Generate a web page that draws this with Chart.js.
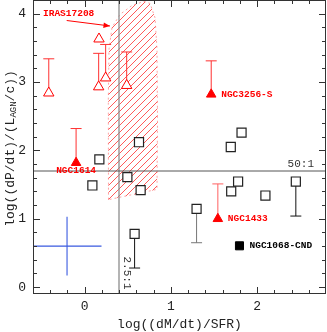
<!DOCTYPE html>
<html><head><meta charset="utf-8">
<script src="https://cdn.jsdelivr.net/npm/chart.js@4.4.0/dist/chart.umd.min.js"></script>
<style>html,body{margin:0;padding:0;background:#fff}#wrap{width:327px;height:332px}</style>
</head><body><div id="wrap"><canvas id="c" width="327" height="332"></canvas></div>
<script>
// ---------- data ----------
const xTicks = [0, 1, 2];
const yTicks = [0, 1, 2, 3, 4];

const openTriX  = [-0.417, 0.162, 0.243, 0.166, 0.487];
const openTriY  = [2.84, 2.93, 3.06, 3.63, 2.95];
const openTriHi = [3.34, 3.42, 3.55, null, 3.44];

const fillTriNames = ['NGC1614', 'NGC3256-S', 'NGC1433'];
const fillTriX  = [-0.10, 1.468, 1.545];
const fillTriY  = [1.82, 2.82, 1.00];
const fillTriHi = [2.32, 3.31, 1.51];

const openSqX  = [0.17, 0.63, 0.089, 0.495, 0.649, 0.579, 1.82, 1.695, 1.298, 1.70, 1.78, 2.097, 2.45];
const openSqY  = [1.87, 2.12, 1.487, 1.61, 1.42, 0.78, 2.26, 2.05, 1.146, 1.40, 1.545, 1.34, 1.545];
const openSqLo = [null, null, null, null, null, 0.28, null, null, 0.65, null, null, null, 1.04];

const filledSqNames = ['NGC1068-CND'];
const filledSqX = [1.796];
const filledSqY = [0.605];

const crossX = [-0.205], crossY = [0.60], crossErrX = [0.40], crossErrY = [0.43];

const hatchX = [0.276, 0.274, 0.282, 0.317, 0.41, 0.549, 0.688, 0.758, 0.816, 0.839, 0.845, 0.839];
const hatchY = [1.28, 2.74, 3.48, 3.80, 3.99, 4.12, 4.18, 4.15, 3.94, 3.48, 2.45, 1.43];

const ratioLineX = Math.log10(2.5);   // 2.5:1
const ratioLineY = Math.log10(50);    // 50:1

const iras = {label: 'IRAS17208', x: -0.484, y: 4.00, ax0: -0.209, ay0: 3.90, ax1: 0.293, ay1: 3.82};

// ---------- styles ----------
const RED = '#ff0000';
const sqBarColors = ['#111', '#111', '#111', '#111', '#111', '#111', '#111', '#111', '#777', '#111', '#111', '#111', '#111'];
const triBarColors = ['#ff3030', '#ff3030', '#ff6060'];
const MONO = '"Liberation Mono", "DejaVu Sans Mono", monospace';

const pts = (xs, ys) => xs.map((v, i) => ({x: v, y: ys[i]}));
const noPad = s => { s.paddingLeft = 0; s.paddingRight = 0; s.paddingTop = 0; s.paddingBottom = 0; };

// hatch pattern
function makePattern() {
  const s = 7;
  const c = document.createElement('canvas');
  c.width = s; c.height = s;
  const g = c.getContext('2d');
  g.strokeStyle = '#ff5a5a';
  g.lineWidth = 1;
  g.beginPath();
  g.moveTo(-1, s + 1); g.lineTo(s + 1, -1);
  g.moveTo(-1, 1); g.lineTo(1, -1);
  g.moveTo(s - 1, s + 1); g.lineTo(s + 1, s - 1);
  g.stroke();
  return g.createPattern(c, 'repeat');
}

const overlay = {
  id: 'overlay',
  beforeDatasetsDraw(chart) {
    const {ctx, chartArea: a, scales: {x, y}} = chart;
    ctx.save();
    ctx.beginPath(); ctx.rect(a.left, a.top, a.right - a.left, a.bottom - a.top); ctx.clip();
    // hatched region
    ctx.beginPath();
    hatchX.forEach((v, i) => {
      const px = x.getPixelForValue(v), py = y.getPixelForValue(hatchY[i]);
      i ? ctx.lineTo(px, py) : ctx.moveTo(px, py);
    });
    ctx.closePath();
    ctx.fillStyle = makePattern();
    ctx.fill();
    ctx.setLineDash([2, 3]);
    ctx.strokeStyle = 'rgba(255,90,90,0.7)';
    ctx.lineWidth = 0.8;
    ctx.stroke();
    ctx.setLineDash([]);
    // reference lines
    ctx.strokeStyle = '#8c8c8c'; ctx.lineWidth = 1.3;
    const vx = x.getPixelForValue(ratioLineX);
    ctx.beginPath(); ctx.moveTo(vx, a.top); ctx.lineTo(vx, a.bottom); ctx.stroke();
    ctx.strokeStyle = '#555'; ctx.lineWidth = 1;
    const hy = y.getPixelForValue(ratioLineY);
    ctx.beginPath(); ctx.moveTo(a.left, hy); ctx.lineTo(a.right, hy); ctx.stroke();
    // error bars
    const bar = (xv, y0, y1, col) => {
      const px = x.getPixelForValue(xv), p0 = y.getPixelForValue(y0), p1 = y.getPixelForValue(y1);
      ctx.strokeStyle = col; ctx.lineWidth = 1;
      ctx.beginPath(); ctx.moveTo(px, p0); ctx.lineTo(px, p1);
      ctx.moveTo(px - 5.5, p1); ctx.lineTo(px + 5.5, p1); ctx.stroke();
    };
    openTriX.forEach((v, i) => { if (openTriHi[i] != null) bar(v, openTriY[i], openTriHi[i], '#ff3030'); });
    fillTriX.forEach((v, i) => bar(v, fillTriY[i], fillTriHi[i], triBarColors[i]));
    openSqX.forEach((v, i) => { if (openSqLo[i] != null) bar(v, openSqY[i], openSqLo[i], sqBarColors[i]); });
    // blue cross
    ctx.strokeStyle = '#3a5ae0'; ctx.lineWidth = 1.1;
    crossX.forEach((v, i) => {
      const cx = x.getPixelForValue(v), cy = y.getPixelForValue(crossY[i]);
      ctx.beginPath();
      ctx.moveTo(x.getPixelForValue(v - crossErrX[i]), cy); ctx.lineTo(x.getPixelForValue(v + crossErrX[i]), cy);
      ctx.moveTo(cx, y.getPixelForValue(crossY[i] - crossErrY[i])); ctx.lineTo(cx, y.getPixelForValue(crossY[i] + crossErrY[i]));
      ctx.stroke();
    });
    ctx.restore();
  },
  afterDraw(chart) {
    const {ctx, chartArea: a, scales: {x, y}} = chart;
    ctx.save();
    // frame
    ctx.strokeStyle = '#333'; ctx.lineWidth = 1;
    ctx.strokeRect(a.left + 0.5, a.top + 0.5, a.right - a.left - 1, a.bottom - a.top - 1);
    // inward ticks
    ctx.beginPath();
    for (let k = -3; k <= 14; k++) {
      const v = k * 0.2; if (v <= -0.6 || v >= 2.8) continue;
      const major = Math.abs(v - Math.round(v)) < 1e-6;
      const L = major ? 7 : 4;
      const px = Math.round(x.getPixelForValue(v)) + 0.5;
      ctx.moveTo(px, a.bottom); ctx.lineTo(px, a.bottom - L);
      ctx.moveTo(px, a.top); ctx.lineTo(px, a.top + L);
    }
    for (let k = 0; k <= 21; k++) {
      const v = k * 0.2; if (v >= 4.2) continue;
      const major = Math.abs(v - Math.round(v)) < 1e-6;
      const L = major ? 7 : 4;
      const py = Math.round(y.getPixelForValue(v)) + 0.5;
      ctx.moveTo(a.left, py); ctx.lineTo(a.left + L, py);
      ctx.moveTo(a.right, py); ctx.lineTo(a.right - L, py);
    }
    ctx.stroke();

    // y title with subscript
    ctx.fillStyle = '#222';
    ctx.translate(11, 148.5);
    ctx.rotate(-Math.PI / 2);
    const f1 = '13px ' + MONO, f2 = '9px ' + MONO;
    const p1 = 'log((dP/dt)/(L', p2 = 'AGN', p3 = '/c))';
    ctx.font = f1; const w1 = ctx.measureText(p1).width, w3 = ctx.measureText(p3).width;
    ctx.font = f2; const w2 = ctx.measureText(p2).width;
    let sx = -(w1 + w2 + w3) / 2;
    ctx.textBaseline = 'middle'; ctx.textAlign = 'left';
    ctx.font = f1; ctx.fillText(p1, sx, 0); sx += w1;
    ctx.font = f2; ctx.fillText(p2, sx, 3); sx += w2;
    ctx.font = f1; ctx.fillText(p3, sx, 0);
    ctx.setTransform(1, 0, 0, 1, 0, 0);

    // labels
    ctx.textBaseline = 'middle';
    ctx.font = 'bold 9.5px ' + MONO;
    ctx.fillStyle = RED;
    fillTriNames.forEach((n, i) => {
      const px = x.getPixelForValue(fillTriX[i]), py = y.getPixelForValue(fillTriY[i]);
      if (i === 0) { ctx.textAlign = 'center'; ctx.fillText(n, px, py + 7.5); }
      else { ctx.textAlign = 'left'; ctx.fillText(n, px + 10, py); }
    });
    ctx.fillStyle = '#000'; ctx.textAlign = 'left';
    filledSqNames.forEach((n, i) => {
      ctx.fillText(n, x.getPixelForValue(filledSqX[i]) + 10, y.getPixelForValue(filledSqY[i]));
    });
    // IRAS label + arrow
    ctx.fillStyle = RED;
    ctx.fillText(iras.label, x.getPixelForValue(iras.x), y.getPixelForValue(iras.y));
    const ax0 = x.getPixelForValue(iras.ax0), ay0 = y.getPixelForValue(iras.ay0);
    const ax1 = x.getPixelForValue(iras.ax1), ay1 = y.getPixelForValue(iras.ay1);
    ctx.strokeStyle = RED; ctx.lineWidth = 1;
    ctx.beginPath(); ctx.moveTo(ax0, ay0); ctx.lineTo(ax1, ay1); ctx.stroke();
    const ang = Math.atan2(ay1 - ay0, ax1 - ax0);
    ctx.beginPath();
    ctx.moveTo(ax1, ay1);
    ctx.lineTo(ax1 - 7 * Math.cos(ang - 0.4), ay1 - 7 * Math.sin(ang - 0.4));
    ctx.lineTo(ax1 - 7 * Math.cos(ang + 0.4), ay1 - 7 * Math.sin(ang + 0.4));
    ctx.closePath(); ctx.fill();
    // ratio labels
    ctx.fillStyle = '#333'; ctx.font = '11px ' + MONO;
    ctx.textAlign = 'right'; ctx.textBaseline = 'bottom';
    ctx.fillText('50:1', a.right - 12, y.getPixelForValue(ratioLineY) - 1);
    ctx.translate(x.getPixelForValue(ratioLineX) + 7.5, a.bottom - 21);
    ctx.rotate(Math.PI / 2);
    ctx.textAlign = 'center'; ctx.textBaseline = 'middle';
    ctx.fillText('2.5:1', 0, 0);
    ctx.restore();
  }
};

new Chart(document.getElementById('c'), {
  type: 'scatter',
  data: {
    datasets: [
      {label: 'open triangles', data: pts(openTriX, openTriY), pointStyle: 'triangle', pointRadius: 6,
       borderColor: RED, backgroundColor: '#fff', pointBorderWidth: 1},
      {label: 'filled triangles', data: pts(fillTriX, fillTriY), pointStyle: 'triangle', pointRadius: 5.5,
       borderColor: RED, backgroundColor: RED, pointBorderWidth: 1},
      {label: 'open squares', data: pts(openSqX, openSqY), pointStyle: 'rect', pointRadius: 6.4,
       borderColor: '#222', backgroundColor: '#fff', pointBorderWidth: 1.2},
      {label: 'NGC1068-CND', data: pts(filledSqX, filledSqY), pointStyle: 'rect', pointRadius: 5.7,
       borderColor: '#000', backgroundColor: '#000', pointBorderWidth: 1}
    ]
  },
  options: {
    responsive: false, animation: false, devicePixelRatio: 1,
    layout: {autoPadding: false, padding: {top: 0, right: 1, left: 0, bottom: 0}},
    plugins: {legend: {display: false}, tooltip: {enabled: false}},
    scales: {
      x: {
        type: 'linear', min: -0.6, max: 2.8,
        grid: {display: false, drawTicks: false}, border: {display: false},
        afterBuildTicks: s => { s.ticks = xTicks.map(v => ({value: v})); },
        afterFit: s => { s.height = 38; noPad(s); },
        ticks: {padding: 5, color: '#222', maxRotation: 0, autoSkip: false,
                font: {family: MONO, size: 13}, callback: v => String(v)},
        title: {display: true, text: 'log((dM/dt)/SFR)', color: '#222',
                font: {family: MONO, size: 13, lineHeight: 1.2}, padding: {top: 0, bottom: 0}}
      },
      y: {
        type: 'linear', min: -0.1, max: 4.2,
        grid: {display: false, drawTicks: false}, border: {display: false},
        afterBuildTicks: s => { s.ticks = yTicks.map(v => ({value: v})); },
        afterFit: s => { s.width = 33; noPad(s); },
        ticks: {padding: 7, color: '#222', autoSkip: false,
                font: {family: MONO, size: 13}, callback: v => String(v)}
      }
    }
  },
  plugins: [overlay]
});
</script>
</body></html>
